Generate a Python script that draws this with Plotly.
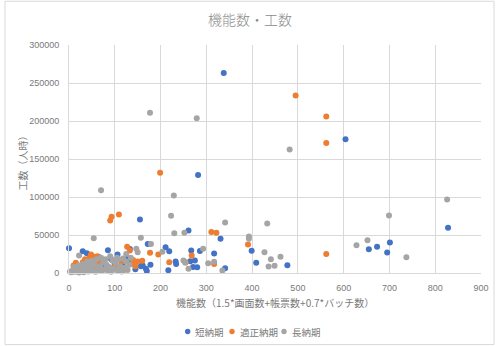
import plotly.graph_objects as go

# 機能数 (x) と 工数 (y) — 納期区分ごと
short_x = [338, 282, 604, 828, 701, 695, 673, 655, 477, 409, 399, 331, 317, 341, 261,
           155, 172, 211, 219, 267, 286, 0, 30, 39, 85, 106, 133, 233, 234, 265, 275,
           280, 271, 217, 178, 161, 168, 170, 100, 120, 55, 75, 140, 145, 110, 60, 45,
           125, 92, 15, 157, 88, 65, 130, 115]
short_y = [263000, 129000, 176000, 59500, 40000, 27000, 34500, 31300, 10300, 13400, 29200,
           45000, 25700, 6300, 56000, 70300, 38000, 34000, 28700, 29500, 29000, 32500,
           28500, 26000, 29800, 24500, 31500, 15000, 12000, 15500, 16500, 7600, 8000, 3500,
           11000, 10000, 5500, 2500, 12000, 8000, 5000, 9000, 15000, 5000, 3000, 15000,
           3000, 20000, 18000, 6000, 9000, 4000, 21000, 17000, 12000]

proper_x = [495, 562, 562, 199, 562, 391, 311, 322, 317, 109, 93, 90, 127, 133, 177, 195,
            219, 268, 48, 53, 59, 71, 15, 10, 140, 138, 150, 25, 40, 65, 80, 100, 115, 160,
            120, 35, 55, 30, 145, 255, 45, 62, 68, 35]
proper_y = [233500, 206000, 171000, 132000, 25000, 37500, 54000, 53000, 12000, 77000,
            74000, 69000, 34500, 29500, 26500, 24300, 14200, 23000, 24300, 21700, 18700,
            16500, 13400, 10000, 17000, 12000, 15000, 5000, 8000, 12000, 5000, 9000, 15000,
            16000, 4000, 3000, 10000, 14000, 9000, 14000, 20000, 22000, 14000, 18000]

long_x = [177, 279, 482, 826, 699, 433, 341, 70, 229, 223, 230, 252, 157, 54, 393, 393,
          427, 441, 462, 436, 449, 628, 652, 737, 293, 204, 147, 150, 179, 22, 250, 254,
          261, 304, 317, 335,
          2, 5, 8, 12, 15, 18, 22, 25, 28, 32, 35, 38, 42, 45, 48, 52, 55, 58, 62, 65, 68,
          72, 75, 78, 82, 85, 88, 92, 95, 98, 102, 105, 108, 112, 115, 118, 122, 125, 128,
          132, 135, 10, 20, 30, 40, 60, 70, 50, 80, 90, 105, 125]
long_y = [210800, 203700, 162500, 96700, 75700, 65000, 66400, 109000, 102000, 75400, 52400,
          53000, 46300, 45600, 48000, 45000, 27400, 18200, 21300, 8600, 9500, 36600, 43200,
          20800, 31800, 28000, 31800, 27400, 38000, 23000, 16400, 13400, 5500, 12900, 14700,
          3300,
          2000, 1000, 3000, 1500, 4000, 2000, 500, 6000, 3000, 1000, 8000, 4000, 2000, 10000,
          6000, 3000, 12000, 1500, 7000, 4000, 9000, 2500, 14000, 5000, 11000, 3000, 8000,
          1500, 16000, 6000, 13000, 3500, 18000, 9000, 2000, 19000, 7000, 15000, 4000,
          11000, 20000, 8000, 10000, 12000, 15000, 18000, 20000, 16000, 18000, 22000, 20000,
          25000]

series = [
    ("短納期", short_x, short_y, "#4472C4"),
    ("適正納期", proper_x, proper_y, "#ED7D31"),
    ("長納期", long_x, long_y, "#A5A5A5"),
]

FONT = "Liberation Sans, Noto Sans CJK JP"
JP = "Noto Sans CJK JP"
TXT = "#7a7a7a"
GRID = "#D9D9D9"

# plot area in pixels
L, R, T, B = 69, 481, 44.7, 272.5
W, H = R - L, B - T


def px(xp):
    return (xp - L) / W


def py(yp):
    return (B - yp) / H


fig = go.Figure()
for name, xs, ys, col in series:
    fig.add_trace(go.Scatter(
        x=xs, y=ys, name=name, mode="markers", cliponaxis=False,
        marker=dict(color=col, size=6, line=dict(width=0)),
    ))

# compact legend row under the axis title
legend_items = [(187.7, 193, "短納期", "#4472C4"),
                (232, 238, "適正納期", "#ED7D31"),
                (284, 290, "長納期", "#A5A5A5")]
shapes = [dict(type="rect", xref="paper", yref="paper",
               x0=px(5), x1=px(494), y0=py(344), y1=py(1),
               line=dict(color=GRID, width=1), layer="below")]
annotations = [
    dict(text="機能数（1.5*画面数+帳票数+0.7*バッチ数）", xref="paper", yref="paper",
         x=0.5, y=py(302), xanchor="center", yanchor="middle",
         showarrow=False, font=dict(family=JP, size=10, color=TXT)),
    dict(text="工数（人時）", xref="paper", yref="paper", textangle=-90,
         x=px(22), y=py(160), xanchor="center", yanchor="middle",
         showarrow=False, font=dict(family=JP, size=10, color=TXT)),
]
for cx, tx, label, col in legend_items:
    shapes.append(dict(type="circle", xref="paper", yref="paper",
                       x0=px(cx - 2.7), x1=px(cx + 2.7), y0=py(331 + 2.7), y1=py(331 - 2.7),
                       fillcolor=col, line=dict(width=0)))
    annotations.append(dict(text=label, xref="paper", yref="paper", x=px(tx), y=py(331),
                            xanchor="left", yanchor="middle", showarrow=False,
                            font=dict(family=JP, size=9.5, color=TXT)))

fig.update_layout(
    width=500, height=346,
    margin=dict(l=L, r=500 - R, t=45, b=73),
    paper_bgcolor="white", plot_bgcolor="white",
    font=dict(family=FONT, color=TXT, size=9),
    title=dict(text="機能数・工数", x=0.5, xref="container", y=1 - 20 / 346,
               yref="container", xanchor="center", yanchor="middle",
               font=dict(family=JP, size=14, color="#8a8a8a", weight=300)),
    showlegend=False,
    shapes=shapes,
    annotations=annotations,
)
fig.update_xaxes(range=[0, 900], dtick=100, showgrid=True, gridcolor=GRID, gridwidth=1,
                 zeroline=False, showline=True, linecolor=GRID, ticks="", ticklabelstandoff=6,
                 tickfont=dict(size=9, color=TXT))
fig.update_yaxes(range=[0, 300000], dtick=50000, showgrid=True, gridcolor=GRID, gridwidth=1,
                 zeroline=False, showline=True, linecolor=GRID, ticks="", ticklabelstandoff=7,
                 tickformat="d", tickfont=dict(size=9, color=TXT))

fig.write_html("out.html")
